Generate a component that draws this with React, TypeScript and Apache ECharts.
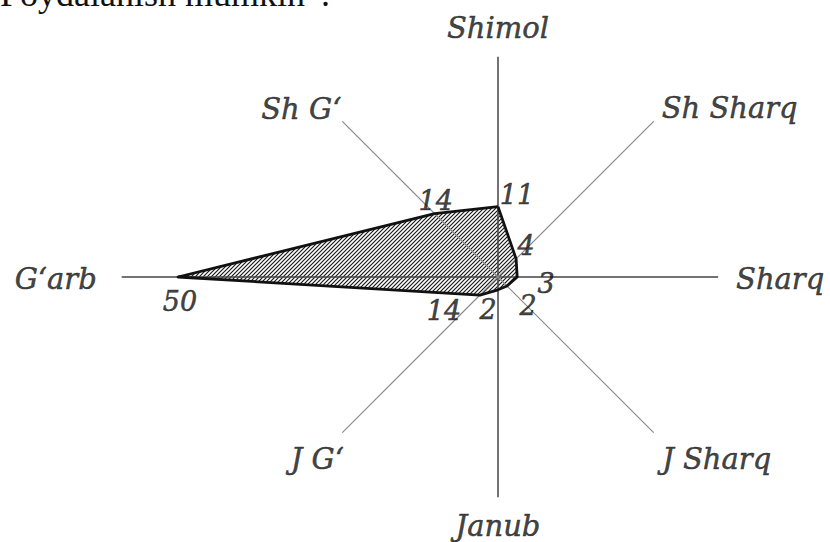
import React, { useEffect, useRef } from 'react';
import * as echarts from 'echarts';

// ---- data (clockwise from north) ----
const directions = ['Shimol', 'Sh Sharq', 'Sharq', 'J Sharq', 'Janub', 'J G‘', 'G‘arb', 'Sh G‘'];
// values printed next to each direction
const windValues = [11, 4, 3, 2, 2, 14, 50, 14];
// radius of each polygon vertex as drawn in the figure (the SW vertex sits at ~4 units although it is labelled 14)
const drawnValues = [11, 4, 3, 2, 2, 4, 50, 14];
// how far each direction line reaches, in value units
const spokeReach = [34.4, 34.4, 34.4, 34.4, 34.4, 34.4, 58.8, 34.4];
const RADIUS_MAX = 60;
const headerText = 'Foydalanish mumkin”.';

// ---- layout / style ----
const CENTER = [498, 277];
const PX_PER_UNIT = 6.4;
const nameOffsets = [[0, -29], [76, -13], [62, 2], [63, 26], [0, 29], [-25, 26], [-66, 2], [-41, -12]];
const valueOffsets = [[19, -12], [10, -13], [29, 6], [21, 19], [-10, 20], [-36, 15], [2, 24], [1, -13]];
const SERIF = '"DejaVu Serif", serif';
const TEXT_COLOR = '#111111';
const mainIdx = [0, 2, 4, 6];
const diagIdx = [1, 3, 5, 7];
// radar lays indicators out counter-clockwise
const radarOrder = [0, 7, 6, 5, 4, 3, 2, 1];

function makeHatch(): HTMLCanvasElement {
  const c = document.createElement('canvas');
  c.width = 4;
  c.height = 4;
  const ctx = c.getContext('2d')!;
  ctx.fillStyle = '#ffffff';
  ctx.fillRect(0, 0, 4, 4);
  ctx.strokeStyle = '#151515';
  ctx.lineWidth = 1.15;
  ctx.beginPath();
  ctx.moveTo(0, 4);
  ctx.lineTo(4, 0);
  ctx.moveTo(-1, 1);
  ctx.lineTo(1, -1);
  ctx.moveTo(3, 5);
  ctx.lineTo(5, 3);
  ctx.stroke();
  return c;
}

function spokeData(idx: number[]) {
  const out: any[] = [];
  idx.forEach((i) => {
    out.push([0, directions[i]]);
    out.push([spokeReach[i], directions[i]]);
  });
  return out;
}

function labelStyle(size: number) {
  return {
    show: true,
    position: 'inside',
    formatter: '{b}',
    fontFamily: SERIF,
    fontStyle: 'italic',
    fontSize: size,
    color: TEXT_COLOR,
    align: 'center',
    verticalAlign: 'middle',
    textBorderColor: TEXT_COLOR,
    textBorderWidth: 0.5,
  };
}

export default function App() {
  const ref = useRef<HTMLDivElement>(null);

  useEffect(() => {
    if (!ref.current) return;
    const chart = echarts.init(ref.current, undefined, { renderer: 'svg' });
    const hatch = makeHatch();
    const pattern: any = { image: hatch, repeat: 'repeat', imageWidth: 4, imageHeight: 4 };

    const option: any = {
      animation: false,
      backgroundColor: '#ffffff',
      graphic: [
        {
          type: 'text',
          x: 0,
          y: 12,
          silent: true,
          style: {
            text: headerText,
            fontFamily: '"Liberation Serif", serif',
            fontSize: 36,
            fill: '#111111',
            verticalAlign: 'bottom',
            align: 'left',
          },
        },
      ],
      radar: {
        center: CENTER,
        radius: RADIUS_MAX * PX_PER_UNIT,
        startAngle: 90,
        silent: true,
        indicator: radarOrder.map((i) => ({ name: directions[i], min: 0, max: RADIUS_MAX })),
        axisName: { show: false },
        axisLine: { show: false },
        axisTick: { show: false },
        axisLabel: { show: false },
        splitLine: { show: false },
        splitArea: { show: false },
      },
      polar: { center: CENTER, radius: RADIUS_MAX * PX_PER_UNIT },
      angleAxis: {
        type: 'category',
        data: directions,
        startAngle: 112.5,
        clockwise: true,
        show: false,
      },
      radiusAxis: { type: 'value', min: 0, max: RADIUS_MAX, show: false },
      series: [
        {
          type: 'radar',
          z: 1,
          silent: true,
          symbol: 'none',
          lineStyle: { width: 0, opacity: 0 },
          areaStyle: { color: pattern, opacity: 1 },
          data: [{ value: radarOrder.map((i) => drawnValues[i]) }],
        },
        {
          type: 'line',
          coordinateSystem: 'polar',
          z: 2,
          silent: true,
          symbol: 'none',
          showSymbol: false,
          lineStyle: { color: '#454545', width: 1.5 },
          data: spokeData(mainIdx),
        },
        {
          type: 'line',
          coordinateSystem: 'polar',
          z: 2,
          silent: true,
          symbol: 'none',
          showSymbol: false,
          lineStyle: { color: '#8a8a8a', width: 1.2 },
          data: spokeData(diagIdx),
        },
        {
          type: 'radar',
          z: 3,
          silent: true,
          symbol: 'none',
          lineStyle: { color: '#111111', width: 2.8 },
          data: [{ value: radarOrder.map((i) => drawnValues[i]) }],
        },
        {
          type: 'scatter',
          coordinateSystem: 'polar',
          z: 4,
          silent: true,
          symbolSize: 1,
          itemStyle: { color: 'rgba(0,0,0,0)' },
          label: labelStyle(29),
          data: directions.map((d, i) => ({
            name: d,
            value: [spokeReach[i], d],
            label: { offset: nameOffsets[i] },
          })),
        },
        {
          type: 'scatter',
          coordinateSystem: 'polar',
          z: 4,
          silent: true,
          symbolSize: 1,
          itemStyle: { color: 'rgba(0,0,0,0)' },
          label: labelStyle(27),
          data: directions.map((d, i) => ({
            name: String(windValues[i]),
            value: [drawnValues[i], d],
            label: { offset: valueOffsets[i] },
          })),
        },
      ],
    };

    chart.setOption(option);
    return () => {
      chart.dispose();
    };
  }, []);

  return (
    <div
      ref={ref}
      style={{ position: 'absolute', left: 0, top: 0, width: 830, height: 542 }}
    />
  );
}
